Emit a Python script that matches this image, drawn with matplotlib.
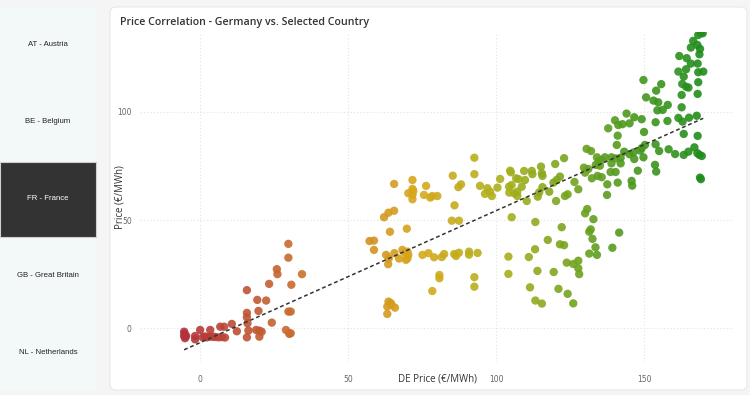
import numpy as np
import matplotlib
matplotlib.use("Agg")
import matplotlib.pyplot as plt
from matplotlib.colors import LinearSegmentedColormap
from matplotlib.patches import FancyBboxPatch, Rectangle
from matplotlib.transforms import IdentityTransform

# countries in the side menu, FR selected
countries = ["AT - Austria", "BE - Belgium", "FR - France", "GB - Great Britain", "NL - Netherlands"]
selected = "FR - France"

# DE price (x) vs FR price (y)
de_price = [-5.4, -5.4, -5.1, -4.7, -5.2, -1.7, -1.7, 0.0, 0.9, 2.3, 3.4, 3.4, 4.3, 6.2, 6.8, 8.1, 8.4,
            10.7, 12.4, 15.8, 15.8, 15.8, 16.0, 16.3, 15.8, 18.9, 19.3, 19.7, 20.0, 20.0, 20.8, 22.3,
            23.3, 24.2, 25.9, 26.1, 29.0, 29.8, 29.8, 29.8, 30.6, 30.1, 30.6, 30.8, 34.4, 1.6, 5.0, 7.3,
            65.5, 71.7, 71.7, 72.0, 70.3, 71.7, 71.7, 76.3, 75.6, 77.7, 78.4, 80.1, 63.6, 65.5, 62.1,
            64.1, 69.8, 57.2, 58.7, 58.7, 62.8, 63.7, 63.5, 65.6, 67.2, 68.3, 69.2, 70.0, 70.3, 69.5,
            70.0, 75.1, 77.1, 79.0, 80.8, 80.8, 78.4, 63.6, 64.4, 63.2, 65.8, 63.2, 64.7,
            92.6, 92.6, 85.3, 88.1, 87.2, 94.5, 96.2, 97.0, 97.9, 98.5, 100.4, 101.3, 104.7, 104.9,
            104.3, 105.2, 104.4, 106.0, 106.7, 107.5, 107.1, 107.1, 108.6, 109.4, 109.7, 110.3, 112.0,
            112.2, 114.0, 114.5, 115.1, 115.4, 115.6, 115.6, 117.9, 119.9, 119.3, 120.4, 121.5, 120.2,
            122.9, 123.2, 124.1, 126.4, 127.7, 105.2, 113.2, 122.1, 117.4, 121.5, 122.9, 113.1, 111.0,
            123.8, 126.0, 127.7, 127.7, 113.9, 119.4, 128.0, 111.4, 121.0, 124.1, 113.2, 115.4, 126.0,
            85.0, 87.4, 85.9, 81.6, 82.4, 85.8, 86.4, 87.4, 90.8, 90.8, 93.7, 104.1, 104.1, 92.6, 92.6,
            130.0, 130.7, 132.8, 131.4, 131.9, 132.5, 133.5, 131.4, 134.0, 139.2, 141.5, 137.4,
            169.1, 168.2, 169.7, 166.5, 167.9, 165.7, 168.8, 168.6, 161.8, 164.3, 165.7, 168.0, 164.1,
            161.5, 168.2, 169.9, 163.3, 162.8, 164.1, 164.9, 168.2, 168.0, 162.6, 149.7, 155.7, 154.0,
            150.6, 153.1, 154.7, 157.9, 154.4, 156.2, 162.6, 144.0, 146.6, 149.1, 153.8, 157.8, 161.5,
            165.1, 167.7, 140.1, 141.2, 142.6, 145.0, 137.8, 162.9, 149.9, 141.0, 163.3, 168.0, 140.7,
            150.2, 153.8, 155.0, 158.2, 160.4, 163.3, 164.9, 166.9, 167.9, 168.6, 169.4, 168.8, 169.1,
            149.1, 148.6, 149.7, 146.3, 145.0, 146.6, 153.6, 154.0, 147.8, 143.2, 142.0, 142.0, 140.3,
            138.9, 136.7, 138.9, 140.3, 138.6, 135.6, 134.5, 134.0, 135.0, 130.5, 132.0, 133.6, 129.6,
            131.1, 130.0, 132.3, 134.2, 135.6, 137.5, 141.0, 145.7, 145.9]
fr_price = [-1.6, -3.6, -4.6, -3.6, -2.6, -3.6, -5.1, -0.8, -4.2, -4.2, -0.8, -3.9, -3.9, -4.2, 0.7, 0.7, -4.3,
            2.0, -1.4, 17.6, 7.1, 5.1, 2.3, -1.1, -4.2, -0.8, 13.1, 8.0, -1.1, -3.9, -1.6, 12.8,
            20.5, 2.6, 27.3, 25.0, -0.8, 39.0, 32.6, 7.7, 7.7, -2.6, -2.3, 20.1, 25.0, -3.8, -4.0, -4.1,
            66.7, 68.5, 64.4, 63.4, 62.4, 61.6, 59.6, 65.8, 61.6, 60.4, 61.1, 61.1, 53.4, 54.3, 51.3,
            44.6, 46.0, 40.3, 40.5, 36.2, 33.9, 32.3, 29.6, 34.7, 32.2, 36.2, 34.9, 35.4, 33.9, 31.6,
            32.3, 33.9, 34.7, 32.8, 24.6, 23.1, 17.2, 12.3, 11.6, 10.0, 9.5, 6.6, 10.8,
            78.8, 71.2, 70.5, 66.5, 65.2, 65.8, 62.1, 64.7, 63.1, 61.1, 65.0, 69.0, 72.8, 72.1,
            65.4, 66.2, 62.7, 62.4, 69.3, 68.9, 63.1, 61.1, 65.4, 72.7, 68.5, 58.8, 72.7,
            71.2, 60.8, 62.8, 74.7, 71.6, 70.4, 65.2, 63.1, 75.9, 67.3, 68.5, 70.1, 58.8,
            78.6, 61.1, 61.9, 67.6, 64.2, 51.3, 49.1, 46.7, 40.8, 38.8, 38.4, 36.5, 32.9,
            30.3, 29.7, 31.2, 27.7, 26.5, 26.0, 25.0, 18.9, 18.2, 15.9, 12.8, 11.4, 11.5,
            49.7, 49.7, 56.8, 32.9, 34.3, 34.3, 33.4, 34.9, 35.4, 34.0, 34.8, 33.1, 25.1, 23.6, 19.2,
            53.1, 55.1, 50.4, 44.6, 45.7, 41.3, 37.4, 34.5, 33.9, 37.2, 44.2, 61.6,
            136.6, 135.5, 136.3, 132.8, 130.9, 129.7, 129.1, 126.6, 125.8, 124.8, 122.3, 122.3, 119.7,
            118.6, 118.3, 118.6, 116.3, 112.9, 111.6, 111.2, 113.7, 108.3, 107.8, 114.7, 112.8, 109.8,
            106.7, 105.2, 104.4, 103.2, 100.7, 100.9, 102.1, 99.2, 97.5, 96.6, 95.2, 95.8, 97.2,
            97.3, 98.2, 96.1, 93.9, 94.3, 94.7, 92.4, 95.5, 90.7, 89.0, 89.8, 88.9, 84.7,
            84.7, 85.0, 81.9, 82.7, 80.5, 80.1, 81.6, 83.6, 80.9, 80.1, 79.6, 69.6, 68.9,
            83.2, 82.1, 79.0, 81.2, 80.4, 78.2, 75.5, 72.4, 72.8, 81.6, 78.8, 76.2, 78.5,
            79.0, 79.0, 76.2, 72.2, 72.2, 77.8, 77.0, 79.0, 75.1, 82.9, 81.9, 75.5, 74.2,
            73.6, 71.9, 69.3, 70.4, 69.8, 66.5, 67.3, 68.1, 65.9]

x_ticks = [0, 50, 100, 150]
y_ticks = [0, 50, 100]

W, H = 750, 395
fig = plt.figure(figsize=(7.5, 3.95), dpi=100, facecolor="#f5f5f5")

def px(x, y):
    # top-left pixel -> display coords
    return x, H - y

# side menu
sx, sy = px(0, 390)
fig.add_artist(Rectangle((sx, sy), 96, 383, transform=IdentityTransform(),
                         facecolor="#f3f8f9", edgecolor="none", zorder=0))
for i, name in enumerate(countries):
    yc = 45 + i * 76.8
    if name == selected:
        bx, by = px(0, 237)
        fig.add_artist(Rectangle((bx, by), 96, 75, transform=IdentityTransform(),
                                 facecolor="#333333", edgecolor="#cfcfcf", lw=0.8, zorder=1))
        col = "white"
    else:
        col = "#222222"
    fig.text(48 / W, 1 - yc / H, name, ha="center", va="center", fontsize=5.6,
             color=col, family="Liberation Sans", zorder=2)

# white card
cx, cy = px(110, 390)
fig.add_artist(FancyBboxPatch((cx, cy), 637, 383, boxstyle="round,pad=0,rounding_size=6",
                              transform=IdentityTransform(), facecolor="white",
                              edgecolor="#e8e8e8", lw=0.8, zorder=0))

fig.text(120 / W, 1 - 23 / H, "Price Correlation - Germany vs. Selected Country",
         ha="left", va="center", fontsize=7.7, color="#333333", family="Open Sans",
         fontweight="semibold")

ax = fig.add_axes([140 / W, 1 - 362 / H, 592 / W, 330 / H])
ax.set_facecolor("none")

x = np.array(de_price)
y = np.array(fr_price)

cmap = LinearSegmentedColormap.from_list("pc", [(0.0, "#b3313c"), (0.2, "#c76a2e"),
                                                (0.45, "#d8a91b"), (0.62, "#a8b01c"),
                                                (0.8, "#5e9e1f"), (1.0, "#1f8c1c")])
ax.scatter(x, y, c=x, cmap=cmap, vmin=x.min(), vmax=x.max(), s=36, alpha=0.9,
           edgecolors="none", zorder=3)

slope, intercept = np.polyfit(x, y, 1)
xl = np.array([x.min(), x.max()])
ax.plot(xl, slope * xl + intercept, color="#333333", lw=1.1, ls=(0, (2.5, 1.8)), zorder=4)

ax.set_xlim(-20.3, 179.6)
ax.set_ylim(-15.6, 136.9)
ax.set_xticks(x_ticks)
ax.set_yticks(y_ticks)
ax.tick_params(length=0, labelsize=5.5, labelcolor="#666666")
ax.tick_params(axis="x", pad=9)
ax.tick_params(axis="y", pad=6)
ax.grid(True, color="#e2e2e2", lw=0.8, ls=(0, (1, 2)))
for s in ax.spines.values():
    s.set_visible(False)

fig.text(437 / W, 1 - 379 / H, "DE Price (€/MWh)", ha="center", va="center",
         fontsize=7.0, color="#333333", family="Open Sans")
fig.text(120 / W, 1 - 197 / H, "Price (€/MWh)", ha="center", va="center", rotation=90,
         fontsize=7.0, color="#333333", family="Open Sans")

fig.savefig("out.png", dpi=100, facecolor=fig.get_facecolor())
